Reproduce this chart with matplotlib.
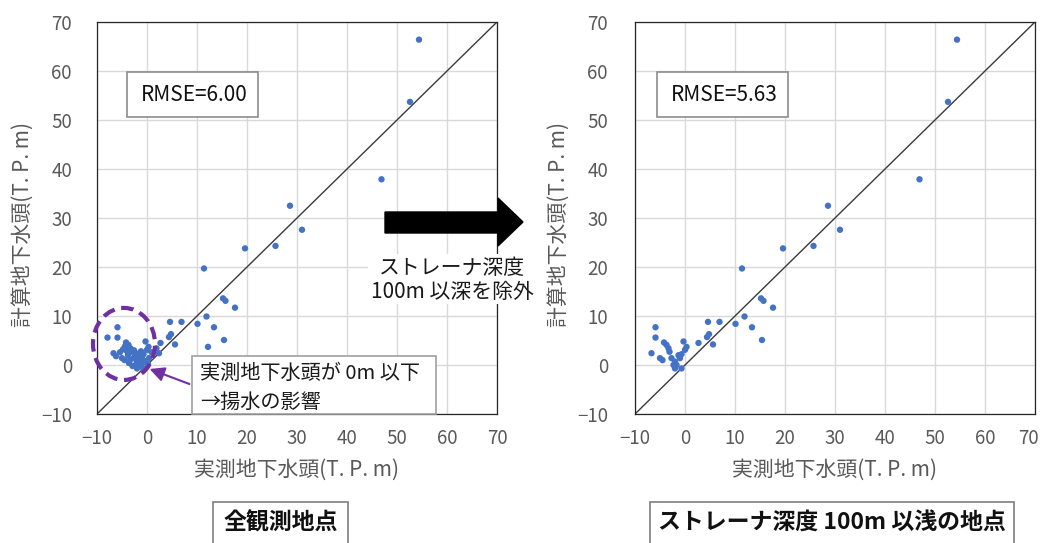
import matplotlib
matplotlib.use("Agg")
import matplotlib.pyplot as plt
from matplotlib.patches import Rectangle, Ellipse, Polygon, FancyArrowPatch
from matplotlib.transforms import ScaledTranslation

plt.rcParams['font.family'] = ['Noto Sans CJK JP', 'DejaVu Sans']

# ---- data: observed vs computed groundwater head (T.P. m) ----
# stations with strainer depth <= 100 m
shallow_obs = [54.4, 52.6, 46.9, 28.6, 31.0, 19.6, 25.7, 11.4,
               15.2, 15.7, 17.6, 11.9, 13.4, 15.4, 4.6, 6.9, 10.1, 4.8, 4.4, 2.7, 5.6,
               -5.9, -5.9, -6.7, -4.2, -3.7, -3.3, -3.1, -5.0, -4.5, -2.7, -2.0, -2.3,
               -1.7, -1.0, -0.7, -1.3, -0.3, 0.3, 0.0, -0.7, -2.0]
shallow_calc = [66.4, 53.7, 37.9, 32.5, 27.6, 23.8, 24.3, 19.7,
                13.6, 13.1, 11.7, 9.9, 7.7, 5.1, 8.8, 8.8, 8.4, 6.3, 5.7, 4.5, 4.2,
                7.7, 5.6, 2.4, 4.6, 4.1, 3.4, 2.7, 1.4, 1.0, 1.4, 0.7, 0.0,
                0.0, 1.4, 2.2, 2.0, 4.8, 3.7, 3.1, -0.7, -0.7]
# stations with strainer depth > 100 m (shown only in the all-station panel)
deep_obs = [-7.9, 12.2, 2.4, -4.8, -3.8, -3.4, -2.6, -2.2, -1.6, -1.0, -0.4,
            0.4, 0.9, 1.9, -6.2, -5.4, -2.9, -1.4, 0.2, -4.4, -3.0,
            -4.0, -2.4, -1.2, -3.6]
deep_calc = [5.6, 3.7, 2.4, 3.2, 2.0, 1.0, 3.0, 2.4, 1.0, 0.3, 0.8,
             1.4, 2.6, 3.4, 1.8, 2.6, -0.2, -0.3, 0.2, 3.8, 3.0,
             2.8, 1.8, 2.8, 0.4]

rmse_all = "6.00"
rmse_shallow = "5.63"
ticks = [-10, 0, 10, 20, 30, 40, 50, 60, 70]
xlabel = "実測地下水頭(T. P. m)"
ylabel = "計算地下水頭(T. P. m)"

W, H = 1043, 543
fig = plt.figure(figsize=(W / 100, H / 100), dpi=100)


def fx(px):
    return px / W


def fy(py):
    return 1 - py / H


DOT = "#4472C4"
GRID = "#d9d9d9"
TICK = "#595959"
PURPLE = "#7030A0"


def make_panel(left_px, obs, calc, ypad):
    ax = fig.add_axes([fx(left_px), fy(414), 400 / W, 392 / H])
    ax.set_xlim(-10, 70)
    ax.set_ylim(-10, 70)
    ax.set_xticks(ticks)
    ax.set_yticks(ticks)
    ax.grid(True, color=GRID, lw=1.0, zorder=0)
    ax.set_axisbelow(True)
    ax.tick_params(length=0, labelsize=13.5, labelcolor=TICK)
    ax.tick_params(axis='x', pad=10)
    ax.tick_params(axis='y', pad=ypad)
    for s in ax.spines.values():
        s.set_color("#262626")
        s.set_linewidth(0.9)
    ax.plot([-10, 70], [-10, 70], color="#3a3a3a", lw=1.0, zorder=2)
    ax.scatter(obs, calc, s=21, color=DOT, edgecolors='none', zorder=3)
    return ax


ax1 = make_panel(97, shallow_obs + deep_obs, shallow_calc + deep_calc, 18)
ax2 = make_panel(635, shallow_obs, shallow_calc, 19.5)

# keep the last x tick label of the right panel inside the canvas
last = ax2.get_xticklabels()[-1]
last.set_transform(last.get_transform()
                   + ScaledTranslation(-5 / 72, 0, fig.dpi_scale_trans))

# axis titles
for cx, cyl in [(297, 23), (835, 559)]:
    fig.text(fx(cx), fy(470), xlabel, ha='center', va='center',
             fontsize=15, color=TICK)
    fig.text(fx(cyl), fy(225), ylabel, ha='center', va='center',
             fontsize=15, color=TICK, rotation=90)

# RMSE boxes
for x0, val in [(127, rmse_all), (657, rmse_shallow)]:
    fig.patches.append(Rectangle((fx(x0), fy(117)), 131 / W, 45 / H,
                                 transform=fig.transFigure, facecolor='white',
                                 edgecolor='#8c8c8c', lw=1.2, zorder=4))
    fig.text(fx(x0 + 14), fy(95), f"RMSE={val}", ha='left', va='center',
             fontsize=15, color='#111111', zorder=5)

# pumping-influence highlight
ax1.add_patch(Ellipse((-4.6, 4.3), 12.4, 14.7, fill=False, edgecolor=PURPLE,
                      lw=3.0, linestyle=(0, (3, 1.6)), clip_on=False, zorder=4))
fig.patches.append(Rectangle((fx(192), fy(414)), 244 / W, 58 / H,
                             transform=fig.transFigure, facecolor='white',
                             edgecolor='#a0a0a0', lw=1.2, zorder=4))
fig.text(fx(200), fy(373), "実測地下水頭が 0m 以下", ha='left', va='center',
         fontsize=14.5, color='#1a1a1a', zorder=5)
fig.text(fx(200), fy(402), "→揚水の影響", ha='left', va='center',
         fontsize=14.5, color='#1a1a1a', zorder=5)
fig.patches.append(FancyArrowPatch((fx(192), fy(385)), (fx(147), fy(368)),
                                   transform=fig.transFigure, arrowstyle='-|>',
                                   mutation_scale=22, color=PURPLE, lw=1.5,
                                   zorder=6))

# big arrow between the panels
arrow_px = [(385, 212), (498, 212), (498, 198), (523, 222),
            (498, 246), (498, 233), (385, 233)]
fig.patches.append(Polygon([(fx(x), fy(y)) for x, y in arrow_px], closed=True,
                           transform=fig.transFigure, facecolor='black',
                           edgecolor='black', zorder=6))
fig.patches.append(Rectangle((fx(368), fy(304)), 167 / W, 50 / H,
                             transform=fig.transFigure, facecolor='white',
                             edgecolor='none', zorder=4))
fig.text(fx(452), fy(268), "ストレーナ深度", ha='center', va='center',
         fontsize=15, color='#1a1a1a', zorder=5)
fig.text(fx(452), fy(292), "100m 以深を除外", ha='center', va='center',
         fontsize=15, color='#1a1a1a', zorder=5)

# panel captions
for x0, x1, txt in [(213, 348, "全観測地点"), (650, 1014, "ストレーナ深度 100m 以浅の地点")]:
    fig.patches.append(Rectangle((fx(x0), fy(560)), (x1 - x0) / W, 58 / H,
                                 transform=fig.transFigure, facecolor='white',
                                 edgecolor='#7f7f7f', lw=1.2, zorder=4))
    fig.text(fx((x0 + x1) / 2), fy(523), txt, ha='center', va='center',
             fontsize=16.5, color='#111111', fontweight='bold', zorder=5)

fig.savefig("out.png", dpi=100)
